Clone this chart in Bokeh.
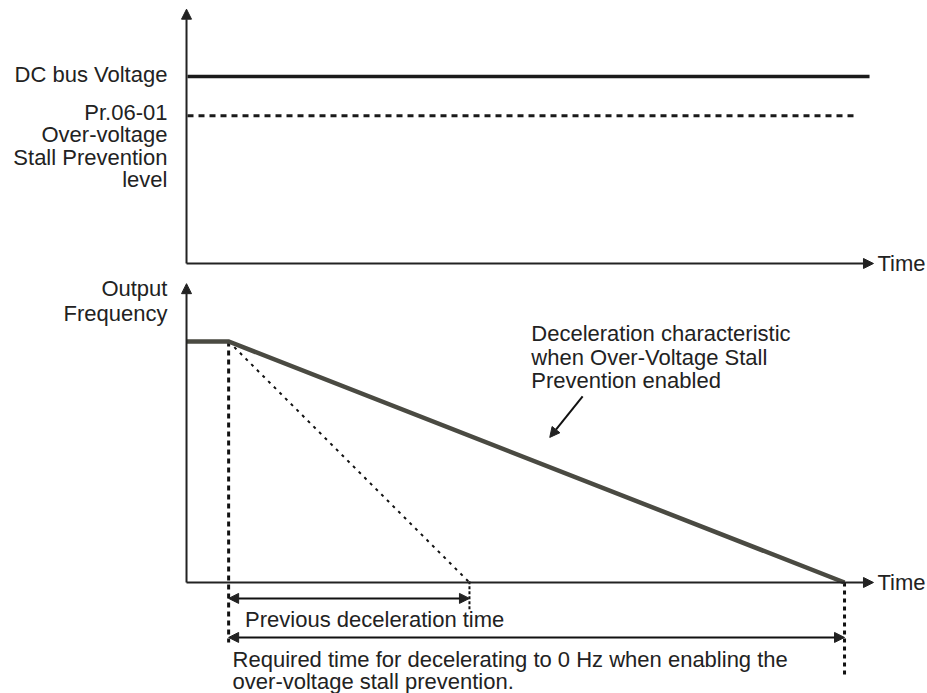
from bokeh.plotting import figure
from bokeh.models import Range1d, Arrow, NormalHead
from bokeh.core.properties import value
from bokeh.embed import file_html
from bokeh.resources import INLINE

# ---- data (diagram units) ----
# time axis: 0 = axis origin, 10 = end of stall-prevention deceleration
t_axis_end = 10.44
t_decel_start = 0.64
t_prev_end = 4.30
t_stall_end = 10.0
t_dc_end = 10.38
t_level_end = 10.18

# voltage panel (normalised to DC bus = 1)
dc_bus_voltage = 1.0
stall_level = 0.79
v_axis_top = 1.36

# frequency panel (normalised to output freq = 1)
f_output = 1.0
f_axis_top = 1.24

freq_t = [0.0, t_decel_start, t_stall_end]
freq_f = [f_output, f_output, 0.0]
prev_t = [t_decel_start, t_prev_end]
prev_f = [f_output, 0.0]

FONT = value("Liberation Sans")
FS = "22px"
AX = "#222222"

p = figure(width=927, height=693, output_backend="svg", toolbar_location=None,
           x_range=Range1d(-2.827, 11.261), y_range=Range1d(-0.4606, 2.415),
           min_border=0, outline_line_color=None)
p.extra_y_ranges = {"volt": Range1d(-2.2995, 1.4064)}
p.xaxis.visible = False
p.yaxis.visible = False
p.xgrid.visible = False
p.ygrid.visible = False

def head(size=10):
    return NormalHead(size=size, fill_color=AX, line_color=AX, line_width=1)

def label(xs, ys, texts, align="left", rng="default"):
    p.text(x=xs, y=ys, text=texts, y_range_name=rng, text_align=align,
           text_baseline="middle", text_font=FONT, text_font_size=FS, text_color=AX)

# ---- top panel: axes ----
p.add_layout(Arrow(end=head(), x_start=0, y_start=0, x_end=0, y_end=v_axis_top,
                   line_color=AX, line_width=2, y_range_name="volt"))
p.add_layout(Arrow(end=head(), x_start=0, y_start=0, x_end=t_axis_end, y_end=0,
                   line_color=AX, line_width=2, y_range_name="volt"))
p.line([0.015, t_dc_end], [dc_bus_voltage, dc_bus_voltage], line_color="#1a1a1a",
       line_width=3.5, y_range_name="volt")
p.line([0.015, t_level_end], [stall_level, stall_level], line_color="#1a1a1a",
       line_width=3, line_dash="6 5", y_range_name="volt")

label([-0.29], [dc_bus_voltage + 0.01], ["DC bus Voltage"], "right", "volt")
lvl_lines = ["Pr.06-01", "Over-voltage", "Stall Prevention", "level"]
lvl_y = [stall_level + 0.02 - i * 0.1203 for i in range(len(lvl_lines))]
label([-0.29] * 4, lvl_y, lvl_lines, "right", "volt")
label([t_axis_end + 0.06], [0], ["Time"], "left", "volt")

# ---- bottom panel: axes ----
p.add_layout(Arrow(end=head(), x_start=0, y_start=0, x_end=0, y_end=f_axis_top,
                   line_color=AX, line_width=2))
p.add_layout(Arrow(end=head(), x_start=0, y_start=0, x_end=t_axis_end, y_end=0,
                   line_color=AX, line_width=2))
label([-0.29, -0.29], [1.218, 1.118], ["Output", "Frequency"], "right")
label([t_axis_end + 0.06], [0], ["Time"])

# guides
p.line([t_decel_start, t_decel_start], [f_output, -0.249], line_color="#111111",
       line_width=3, line_dash="5 4")
p.line([t_stall_end, t_stall_end], [0, -0.398], line_color="#111111",
       line_width=3, line_dash="4 4")
p.line([t_prev_end, t_prev_end], [0.005, -0.116], line_color="#111111",
       line_width=2, line_dash="3 2")
p.line(prev_t, prev_f, line_color="#111111", line_width=2, line_dash="3 5")

# output frequency curve
p.line(freq_t, freq_f, line_color="#4a4a42", line_width=4.5, line_join="miter")

# time-span arrows
p.add_layout(Arrow(start=head(), end=head(), x_start=t_decel_start, y_start=-0.066,
                   x_end=t_prev_end, y_end=-0.066, line_color="#111111", line_width=2))
p.add_layout(Arrow(start=head(), end=head(), x_start=t_decel_start, y_start=-0.228,
                   x_end=t_stall_end, y_end=-0.228, line_color="#111111", line_width=2))
label([0.89], [-0.153], ["Previous deceleration time"])
label([0.70, 0.70], [-0.320, -0.410],
      ["Required time for decelerating to 0 Hz when enabling the",
       "over-voltage stall prevention."])

# annotation
ann = ["Deceleration characteristic", "when Over-Voltage Stall", "Prevention enabled"]
label([5.24] * 3, [1.033, 0.934, 0.838], ann)
p.add_layout(Arrow(end=head(), x_start=6.02, y_start=0.772, x_end=5.52, y_end=0.602,
                   line_color="#111111", line_width=2))

open("out.html", "w").write(file_html(p, INLINE))
